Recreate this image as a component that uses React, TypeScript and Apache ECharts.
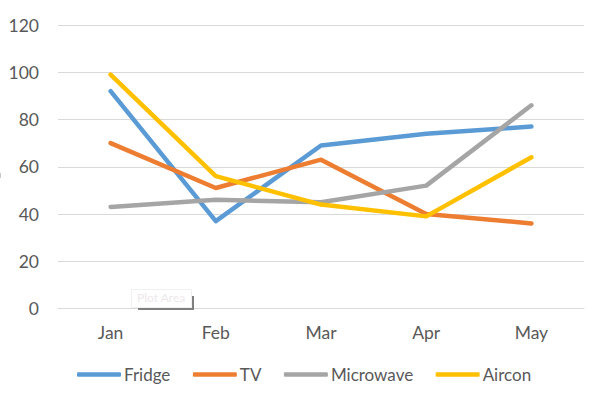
import React, { useEffect, useRef } from "react";
import * as echarts from "echarts";

const categories = ["Jan", "Feb", "Mar", "Apr", "May"];
const fridge = [92, 37, 69, 74, 77];
const tv = [70, 51, 63, 40, 36];
const microwave = [43, 46, 45, 52, 86];
const aircon = [99, 56, 44, 39, 64];
const seriesNames = ["Fridge", "TV", "Microwave", "Aircon"];
const colors = ["#5B9BD5", "#ED7D31", "#A5A5A5", "#FFC000"];

const FONT = "Lato, 'Open Sans', sans-serif";

export default function App() {
  const ref = useRef<HTMLDivElement>(null);
  useEffect(() => {
    if (!ref.current) return;
    const chart = echarts.init(ref.current, undefined, { renderer: "svg" });
    const data = [fridge, tv, microwave, aircon];
    chart.setOption({
      animation: false,
      grid: { left: 58, right: 12, top: 25, bottom: 86.5, containLabel: false },
      legend: {
        left: 77,
        top: 366,
        padding: 0,
        icon: "roundRect",
        itemWidth: 44,
        itemHeight: 4.5,
        itemGap: 22.5,
        textStyle: { color: "#595959", fontSize: 17, fontFamily: FONT, padding: [0, 0, 0, -2] },
        data: seriesNames,
      },
      xAxis: {
        type: "category",
        data: categories,
        boundaryGap: true,
        axisLine: { show: true, lineStyle: { color: "#D9D9D9", width: 1 } },
        axisTick: { show: false },
        axisLabel: { color: "#595959", fontSize: 17.5, fontFamily: FONT, margin: 15 },
      },
      yAxis: {
        type: "value",
        min: 0,
        max: 120,
        interval: 20,
        axisLine: { show: false },
        axisTick: { show: false },
        splitLine: { lineStyle: { color: "#D9D9D9", width: 1 } },
        axisLabel: { color: "#595959", fontSize: 17.5, fontFamily: FONT, margin: 19 },
      },
      series: seriesNames.map((name, i) => ({
        name,
        type: "line",
        data: data[i],
        symbol: "none",
        showSymbol: false,
        color: colors[i],
        lineStyle: { color: colors[i], width: 4.5, cap: "round", join: "round" },
      })),
      graphic: [
        {
          type: "polyline",
          shape: { points: [[138, 309], [193, 309], [193, 296]] },
          style: { stroke: "#7F7F7F", lineWidth: 2, fill: "none" },
          z: 100,
        },
        {
          type: "rect",
          shape: { x: 131.5, y: 289.5, width: 60, height: 18 },
          style: { fill: "#FFFFFF", stroke: "#F0F0F0", lineWidth: 1 },
          z: 101,
        },
        {
          type: "text",
          x: 137,
          y: 291,
          style: { text: "Plot Area", fill: "#EDE8EA", fontSize: 12, fontFamily: FONT },
          z: 102,
        },
        {
          type: "rect",
          shape: { x: 0, y: 173, width: 1, height: 5 },
          style: { fill: "#C8C8C8" },
          z: 100,
        },
      ],
    });
    return () => chart.dispose();
  }, []);
  return (
    <div
      ref={ref}
      style={{ position: "fixed", left: 0, top: 0, width: 596, height: 395, background: "#fff" }}
    />
  );
}
